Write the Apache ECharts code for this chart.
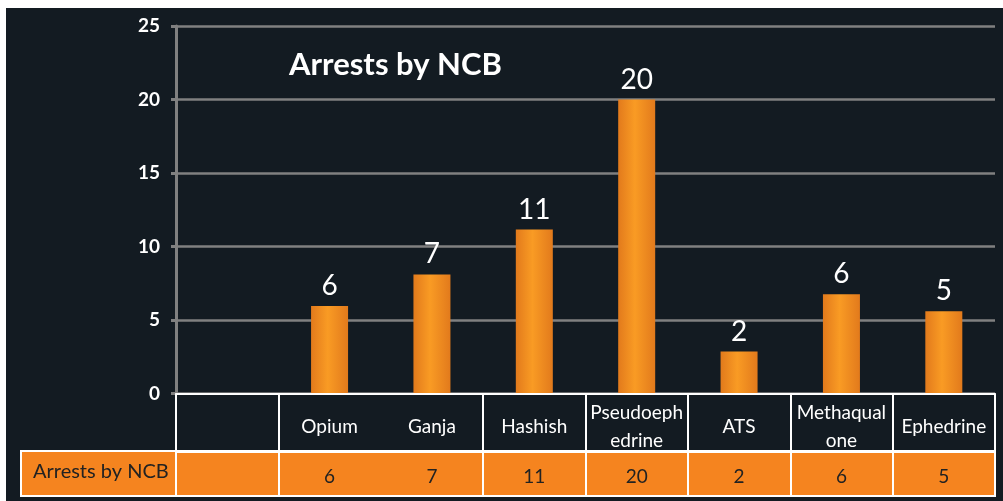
<!DOCTYPE html>
<html>
<head>
<meta charset="utf-8">
<script src="https://cdn.jsdelivr.net/npm/echarts@6/dist/echarts.min.js"></script>
<style>
  html, body { margin: 0; padding: 0; background: #ffffff; }
  #chart { position: absolute; left: 6px; top: 8px; width: 997px; height: 493px; background: #131b22; }
</style>
</head>
<body>
<div id="chart"></div>
<script>
// categories as printed in the table header (first column is empty)
const categories = ["", "Opium", "Ganja", "Hashish", "Pseudoeph\nedrine", "ATS", "Methaqual\none", "Ephedrine"];
// bar heights as drawn in the picture
const barHeights = [null, 5.95, 8.1, 11.15, 20.0, 2.85, 6.75, 5.6];
// values printed above the bars and in the table row
const arrests = ["", "6", "7", "11", "20", "2", "6", "5"];
const seriesName = "Arrests by NCB";
const yTicks = [0, 5, 10, 15, 20, 25];

const FONT = "Lato, 'Open Sans', sans-serif";
const ORANGE = "#f5841f";
// the table has no divider between Opium and Ganja
const tableDivider = (i) => i !== 2;

const chart = echarts.init(document.getElementById("chart"), null, { renderer: "canvas" });

const option = {
  backgroundColor: "#131b22",
  animation: false,
  title: {
    text: seriesName,
    left: 278,
    top: 36,
    textStyle: { color: "#ffffff", fontFamily: FONT, fontWeight: "bold", fontSize: 31 }
  },
  grid: { left: 170, right: 8, top: 18, bottom: 107.5 },
  graphic: [
    {
      type: "rect",
      z: -1,
      shape: { x: 15, y: 443, width: 974, height: 45 },
      style: { fill: ORANGE, stroke: "#ffffff", lineWidth: 2 }
    },
    {
      type: "text",
      z: 20,
      left: 27,
      top: 454,
      style: { text: seriesName, fill: "#222222", font: "20px " + FONT }
    }
  ],
  xAxis: [
    {
      type: "category",
      data: categories,
      position: "bottom",
      z: 10,
      axisLine: { show: true, lineStyle: { color: "#ffffff", width: 2 } },
      axisTick: {
        show: true,
        length: 58,
        interval: tableDivider,
        lineStyle: { color: "#ffffff", width: 2 }
      },
      axisLabel: {
        color: "#ffffff",
        fontFamily: FONT,
        fontSize: 19,
        lineHeight: 28,
        margin: 33,
        verticalAlign: "middle",
        interval: 0
      },
      splitLine: { show: false }
    },
    {
      type: "category",
      data: categories,
      position: "bottom",
      offset: 58,
      z: 10,
      axisLine: { show: true, lineStyle: { color: "#ffffff", width: 2 } },
      axisTick: { show: true, length: 45, interval: tableDivider, lineStyle: { color: "#ffffff", width: 2 } },
      axisLabel: {
        color: "#222222",
        fontFamily: FONT,
        fontSize: 19,
        margin: 25,
        verticalAlign: "middle",
        interval: 0,
        formatter: (v, i) => arrests[i]
      },
      splitLine: { show: false }
    }
  ],
  yAxis: {
    type: "value",
    min: yTicks[0],
    max: yTicks[yTicks.length - 1],
    interval: 5,
    axisLine: { show: true, lineStyle: { color: "#808080", width: 3 } },
    axisTick: { show: true, length: 5, lineStyle: { color: "#808080", width: 3 } },
    axisLabel: {
      color: "#ffffff",
      fontFamily: FONT,
      fontWeight: "bold",
      fontSize: 19,
      margin: 16
    },
    splitLine: { show: true, lineStyle: { color: "#808080", width: 2.5 } }
  },
  series: [
    {
      name: seriesName,
      type: "bar",
      xAxisIndex: 0,
      data: barHeights,
      barWidth: 37,
      itemStyle: {
        color: new echarts.graphic.LinearGradient(0, 0, 1, 0, [
          { offset: 0, color: "#e27a1c" },
          { offset: 0.45, color: "#f99b24" },
          { offset: 1, color: "#e27a1c" }
        ])
      },
      label: {
        show: true,
        position: "top",
        distance: 6,
        color: "#ffffff",
        fontFamily: FONT,
        fontSize: 28,
        formatter: (p) => arrests[p.dataIndex]
      }
    }
  ]
};

chart.setOption(option);
</script>
</body>
</html>
